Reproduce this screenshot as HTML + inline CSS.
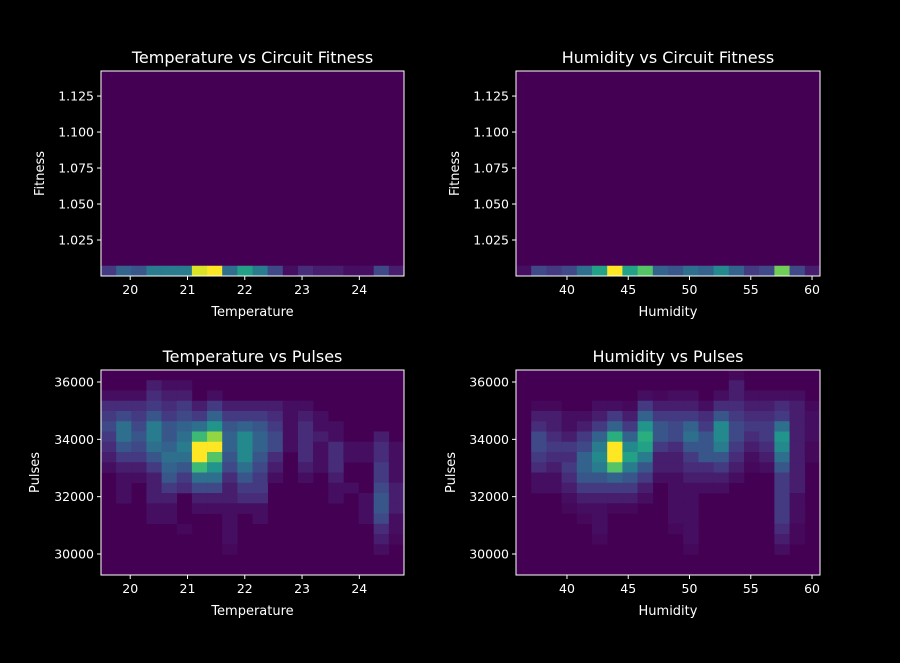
<!DOCTYPE html>
<html><head><meta charset="utf-8"><style>
html,body{margin:0;padding:0;background:#000;overflow:hidden;width:900px;height:663px;}
svg{display:block;}
svg text{font-family:"DejaVu Sans","Liberation Sans",sans-serif;fill:#fff;}
</style></head><body>
<svg id="fig" width="900" height="663" viewBox="0 0 900 663" xmlns="http://www.w3.org/2000/svg">
<rect width="900" height="663" fill="#000"/>
</svg>
<script>
// ---- data (relative counts, 0..10) ----
const tempFitnessRow = [2,3.5,3,4.5,4.5,4.5,9.5,10,4,6,4.5,2.5,0.5,1.5,1,1,0.5,0.5,2.5,1];
const humFitnessRow = [0.5,2.5,2,2.5,4,6,10,6,7.5,3.5,3,4,3.5,5,3.5,2,2.5,8,2.5,1];
// rows from top (high pulses) to bottom
const tempPulses = [
"0 0 0 0 0 0 0 0 0 0 0 0 0 0 0 0 0 0 0 0",
"0 0 0 1 0.5 0.5 0 0 0 0 0 0 0 0 0 0 0 0 0 0",
"0.5 0.5 0.5 1.5 1 1 0 0.5 0 0 0 0 0 0 0 0 0 0 0 0",
"1.5 1.5 1.5 2 1.5 2 1 2 1 1 1 1 0.5 0.5 0 0 0 0 0 0",
"2 2.5 2 3 2 2.5 2 3.5 2 2 2 1.5 0.5 1 0.5 0 0 0 0 0",
"2.5 4 2.5 4.5 3 3.5 4 5.5 3 3.5 3 2 0.5 1.5 0.5 0.5 0 0 0 0",
"2 4 3 4.5 3 4 7 8.5 3.5 5 3.5 2.5 0.5 1.5 1 0.5 0 0 1 0",
"1.5 3 2.5 4 3.5 4.5 10 10 3.5 5 3.5 2.5 0.5 1.5 0.5 1.5 0.5 0.5 1.5 0.5",
"1 2 2 3 4 4 10 7.5 3 5 3 1.5 0 1.5 0.5 1.5 0.5 0.5 1.5 0.5",
"0.5 1 1 2 3.5 3 7 5.5 2.5 4 2.5 1 0 1 0.5 1.5 0 0 2 0.5",
"0 0.5 0.5 1 3 2 4 4 1.5 3 2 0.5 0 0.5 0 1 0 0 2 0.5",
"0 0.5 0 1 2 1.5 2.5 2.5 1 2 2 0 0 0 0 0.5 0.5 0 2.5 1",
"0 0.5 0 1 1 0 1 1 1 1.5 1.5 0 0 0 0 0.5 0 0.5 3 1",
"0 0 0 0.5 0.5 0 0.5 0.5 0.5 0.5 0.5 0 0 0 0 0 0 0.5 3 1",
"0 0 0 0.5 0.5 0 0 0 0.5 0 0.5 0 0 0 0 0 0 0.5 2.5 0.5",
"0 0 0 0 0 0.3 0 0 0.5 0 0 0 0 0 0 0 0 0 1.5 0.5",
"0 0 0 0 0 0 0 0 0.5 0 0 0 0 0 0 0 0 0 1 0.3",
"0 0 0 0 0 0 0 0 0.3 0 0 0 0 0 0 0 0 0 0.5 0",
"0 0 0 0 0 0 0 0 0 0 0 0 0 0 0 0 0 0 0 0",
"0 0 0 0 0 0 0 0 0 0 0 0 0 0 0 0 0 0 0 0"];
const humPulses = [
"0 0 0 0 0 0 0 0 0 0 0 0 0 0 0.3 0 0 0 0 0",
"0 0 0 0 0 0 0 0 0 0 0 0 0 0 1 0 0 0 0 0",
"0 0 0 0 0 0 0 0 0.5 0.3 0.5 0.5 0 0.5 1 0.5 0.5 0.5 0.5 0",
"0 0.3 0.3 0 0 0.5 0.5 0.3 2 1 1 1 0.5 1.5 1.5 1 1 1.5 1 0.3",
"0 1 1 0.5 0.5 1 2 1 3.5 2 2 2 1.5 3 2 1.5 1.5 2 1 0.5",
"0 1.5 1 0.5 1 2 3.5 2 5.5 3 2.5 3.5 2 5 2.5 2 2 4 1 0.5",
"0 2.5 1.5 1 2 3.5 6.5 3.5 6.5 3 2.5 4 3 5 2.5 1.5 2 5.5 1 0.5",
"0 2.5 2 2 2.5 4.5 10 5 6 2 1.5 3 3 4.5 2 1 1.5 5 1 0.3",
"0 2 1.5 1.5 3.5 5 10 6 4.5 1 1 2 3 3 1.5 0.5 1 4 1 0.3",
"0 1.5 1 2 3.5 4.5 7.5 4.5 3 1 1 1.5 1.5 2 1 0.3 0.5 3 1 0",
"0 0.5 0.5 1.5 3 3 3.5 3 2 0.5 0.5 1 1 1 0.5 0 0 2 1 0",
"0 0.5 0.5 1 2 2 2 2 1 0 0.5 0.5 0.5 0.5 0 0 0 2 1 0",
"0 0 0 0.5 1 1 1 1 0.5 0 0.5 0.5 0 0 0 0 0 2 0.5 0",
"0 0 0 0.3 0.5 0.5 0.3 0.3 0 0 0.5 0.5 0 0 0 0 0 2 0.5 0",
"0 0 0 0 0.3 0.5 0 0 0 0 0.5 0.5 0 0 0 0 0 2 0.5 0",
"0 0 0 0 0 0.5 0 0 0 0 0.3 0.5 0 0 0 0 0 1.5 0.3 0",
"0 0 0 0 0 0.3 0 0 0 0 0 0.5 0 0 0 0 0 1 0.3 0",
"0 0 0 0 0 0 0 0 0 0 0 0.3 0 0 0 0 0 0.5 0 0",
"0 0 0 0 0 0 0 0 0 0 0 0 0 0 0 0 0 0 0 0",
"0 0 0 0 0 0 0 0 0 0 0 0 0 0 0 0 0 0 0 0"];
const tempTicks = [20,21,22,23,24];
const humTicks = [40,45,50,55,60];
const fitTicks = ["1.025","1.050","1.075","1.100","1.125"];
const pulseTicks = [30000,32000,34000,36000];

const NS="http://www.w3.org/2000/svg";
const svg=document.getElementById('fig');
function el(t,a,p){const e=document.createElementNS(NS,t);for(const k in a)e.setAttribute(k,a[k]);(p||svg).appendChild(e);return e;}
const VIR=[[68,1,84],[72,36,117],[65,68,135],[53,95,141],[42,120,142],[33,145,140],[34,168,132],[68,191,112],[122,209,81],[189,223,38],[253,231,37]];
function viridis(t){t=Math.max(0,Math.min(1,t));const s=t*10,i=Math.min(9,Math.floor(s)),f=s-i;const a=VIR[i],b=VIR[i+1];return 'rgb('+a.map((v,j)=>Math.round(v+(b[j]-v)*f)).join(',')+')';}

function panel(o){
  const g=el('g',{});
  
  
  const X=v=>o.x0+(v-o.xd[0])/(o.xd[1]-o.xd[0])*(o.x1-o.x0);
  const Y=v=>o.y1-(v-o.yd[0])/(o.yd[1]-o.yd[0])*(o.y1-o.y0);
  el('rect',{x:o.x0,y:o.y0,width:o.x1-o.x0,height:o.y1-o.y0,fill:viridis(0)},g);
  const nr=o.grid.length,nc=o.grid[0].length;
  const bx0=o.bx[0],bx1=o.bx[1],by0=o.by[0],by1=o.by[1];
  for(let r=0;r<nr;r++)for(let c=0;c<nc;c++){
    const v=o.grid[r][c];if(!v)continue;
    const xa=X(bx0+(bx1-bx0)*c/nc),xb=X(bx0+(bx1-bx0)*(c+1)/nc);
    const yb=Y(by1-(by1-by0)*r/nr),ya=Y(by1-(by1-by0)*(r+1)/nr);
    const cell=el('rect',{x:xa,y:yb,width:xb-xa+0.3,height:ya-yb+0.3,fill:viridis(Math.pow(v/10,1.1))},g);
    
    
  }
  el('rect',{x:o.x0,y:o.y0,width:o.x1-o.x0,height:o.y1-o.y0,fill:'none',stroke:'#fff','stroke-width':1},g);
  o.xt.forEach(t=>{const x=X(+t);el('line',{x1:x,x2:x,y1:o.y1,y2:o.y1+4,stroke:'#fff'},g);
    const tx=el('text',{x:x,y:o.y1+18,'font-size':12.5,'text-anchor':'middle'},g);tx.textContent=t;
    });
  o.yt.forEach(t=>{const y=Y(+t);el('line',{x1:o.x0-4,x2:o.x0,y1:y,y2:y,stroke:'#fff'},g);
    const tx=el('text',{x:o.x0-7,y:y+4.5,'font-size':12.5,'text-anchor':'end'},g);tx.textContent=t;
    });
  const ti=el('text',{x:(o.x0+o.x1)/2,y:o.y0-8,'font-size':16,'text-anchor':'middle'},g);ti.textContent=o.title;
  
  const xl=el('text',{x:(o.x0+o.x1)/2,y:o.y1+40,'font-size':13,'text-anchor':'middle'},g);xl.textContent=o.xl;
  
  const yx=o.ylx,yy=(o.y0+o.y1)/2;
  const yl=el('text',{x:yx,y:yy,'font-size':13,'text-anchor':'middle',transform:'rotate(-90 '+yx+' '+yy+')'},g);yl.textContent=o.yl;
  
}
const parse=a=>a.map(s=>s.split(' ').map(Number));
const zeroRows=row=>{const g=[];for(let i=0;i<19;i++)g.push(row.map(()=>0));g.push(row);return g;};
const tD=[19.49,24.78], hD=[35.84,60.65], fD=[1.0,1.1424], pD=[29267,36419];
panel({name:'temperature-fitness-panel',x0:101,x1:404,y0:71,y1:276,xd:tD,yd:fD,bx:tD,by:fD,grid:zeroRows(tempFitnessRow),
  xt:tempTicks,yt:fitTicks,title:'Temperature vs Circuit Fitness',xl:'Temperature',yl:'Fitness',ylx:44});
panel({name:'humidity-fitness-panel',x0:516,x1:820,y0:71,y1:276,xd:hD,yd:fD,bx:hD,by:fD,grid:zeroRows(humFitnessRow),
  xt:humTicks,yt:fitTicks,title:'Humidity vs Circuit Fitness',xl:'Humidity',yl:'Fitness',ylx:459});
panel({name:'temperature-pulses-panel',x0:101,x1:404,y0:370,y1:575,xd:tD,yd:pD,bx:tD,by:pD,grid:parse(tempPulses),
  xt:tempTicks,yt:pulseTicks,title:'Temperature vs Pulses',xl:'Temperature',yl:'Pulses',ylx:39});
panel({name:'humidity-pulses-panel',x0:516,x1:820,y0:370,y1:575,xd:hD,yd:pD,bx:hD,by:pD,grid:parse(humPulses),
  xt:humTicks,yt:pulseTicks,title:'Humidity vs Pulses',xl:'Humidity',yl:'Pulses',ylx:455});
</script>
</body></html>
